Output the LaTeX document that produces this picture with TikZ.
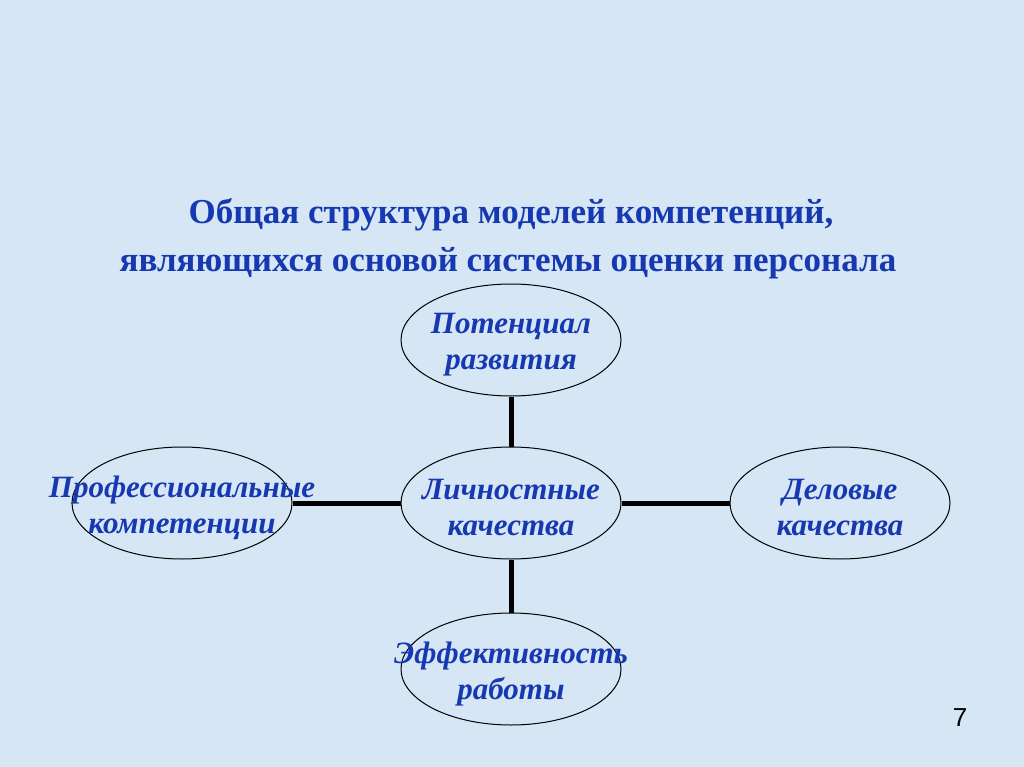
\documentclass[tikz,border=0pt]{standalone}
\usepackage{fontspec}
\setmainfont{Liberation Serif}
\newfontfamily\numfont{Liberation Sans}
\usetikzlibrary{shapes.geometric}
\definecolor{bgblue}{RGB}{214,230,244}
\definecolor{txtblue}{RGB}{22,56,176}
\tikzset{
  oval/.style={draw=black, line width=1pt, ellipse, minimum width=220pt, minimum height=112pt, inner sep=0pt},
  ovaltext/.style={text=txtblue, align=center, inner sep=0pt, font=\fontsize{31}{36}\selectfont\bfseries\itshape},
  link/.style={line width=5pt, draw=black},
  title/.style={text=txtblue, font=\fontsize{35}{40}\selectfont\bfseries}
}
\begin{document}
\begin{tikzpicture}[x=1pt,y=-1pt]
\fill[bgblue] (0,0) rectangle (1024,767);
\useasboundingbox (0,0) rectangle (1024,767);
\node[title] (t1) at (511,215) {Общая структура моделей компетенций,};
\node[title] (t2) at (508,263) {являющихся основой системы оценки персонала};
\node[oval] (top) at (511,340) {};
\node[oval] (mid) at (511,503) {};
\node[oval] (left) at (182,503) {};
\node[oval] (right) at (840,503) {};
\node[oval] (bot) at (511,669) {};
\node[ovaltext] (toptx) at (511,345) {Потенциал\\развития};
\node[ovaltext] (midtx) at (511,508) {Личностные\\качества};
\node[ovaltext] (lefttx) at (182,508) {Профессиональные\\компетенции};
\node[ovaltext] (righttx) at (840,508) {Деловые\\ качества};
\node[ovaltext] (bottx) at (511,674) {Эффективность\\работы};
\draw[link] (top) -- (mid);
\draw[link] (mid) -- (bot);
\draw[link] (left) -- (mid);
\draw[link] (mid) -- (right);
\node[font=\numfont\fontsize{26}{30}\selectfont] (pg) at (960,718) {7};
\end{tikzpicture}
\end{document}
